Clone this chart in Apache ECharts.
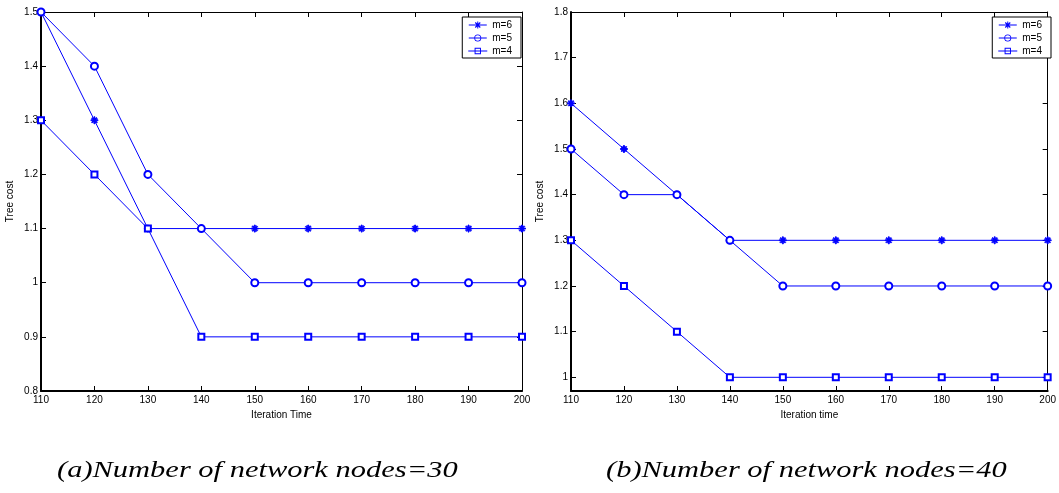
<!DOCTYPE html>
<html>
<head>
<meta charset="utf-8">
<script src="https://cdn.jsdelivr.net/npm/echarts@6/dist/echarts.min.js"></script>
<style>
  html, body { margin: 0; padding: 0; background: #fff; }
  #chart { width: 1059px; height: 493px; }
</style>
</head>
<body>
<div id="chart"></div>
<script>
const iterations = [110, 120, 130, 140, 150, 160, 170, 180, 190, 200];

// (a) 30 nodes
const nodes30M6 = [1.5, 1.3, 1.1, 1.1, 1.1, 1.1, 1.1, 1.1, 1.1, 1.1];
const nodes30M5 = [1.5, 1.4, 1.2, 1.1, 1.0, 1.0, 1.0, 1.0, 1.0, 1.0];
const nodes30M4 = [1.3, 1.2, 1.1, 0.9, 0.9, 0.9, 0.9, 0.9, 0.9, 0.9];

// (b) 40 nodes
const nodes40M6 = [1.6, 1.5, 1.4, 1.3, 1.3, 1.3, 1.3, 1.3, 1.3, 1.3];
const nodes40M5 = [1.5, 1.4, 1.4, 1.3, 1.2, 1.2, 1.2, 1.2, 1.2, 1.2];
const nodes40M4 = [1.3, 1.2, 1.1, 1.0, 1.0, 1.0, 1.0, 1.0, 1.0, 1.0];

const seriesNames = ['m=6', 'm=5', 'm=4'];
const yTicksA = [0.8, 0.9, 1.0, 1.1, 1.2, 1.3, 1.4, 1.5];
const yTicksB = [1.0, 1.1, 1.2, 1.3, 1.4, 1.5, 1.6, 1.7, 1.8];
const captions = ['(a)Number of network nodes=30', '(b)Number of network nodes=40'];

const blue = '#0000ff';
const star = 'path://M4.3 0L5.7 0L5.7 10L4.3 10Z M0 4.3L10 4.3L10 5.7L0 5.7Z M2 1L9 8L8 9L1 2Z M8 1L9 2L2 9L1 8Z';
const markers = [
  { symbol: star, size: 7 },
  { symbol: 'emptyCircle', size: 7 },
  { symbol: 'emptyRect', size: 6 },
];

// legend icons: line + marker, drawn as one filled path (18 x 7 box)
const lineBar = 'M0 3L18 3L18 4L0 4Z';
const legendIcons = [
  'path://' + lineBar + ' M8.5 0L9.5 0L9.5 7L8.5 7Z M6.9 0.6L11.9 5.6L11.1 6.4L6.1 1.4Z M11.1 0.6L11.9 1.4L6.9 6.4L6.1 5.6Z',
  'path://' + lineBar + ' M12.5 3.5A3.5 3.5 0 1 1 5.5 3.5A3.5 3.5 0 1 1 12.5 3.5Z M11.7 3.5A2.7 2.7 0 1 0 6.3 3.5A2.7 2.7 0 1 0 11.7 3.5Z',
  'path://' + lineBar + ' M6 0.5L12 0.5L12 6.5L6 6.5Z M6.9 1.4L6.9 5.6L11.1 5.6L11.1 1.4Z',
];

const labelFont = { fontFamily: 'Liberation Sans', fontSize: 10, color: '#000' };

const fmt = (v) => {
  const r = Math.round(v * 10) / 10;
  return r === 1 ? '1' : r.toString();
};

const xAxisFor = (gridIndex, name, shown) => ({
  gridIndex: gridIndex,
  type: 'value',
  min: 110,
  max: 200,
  interval: 10,
  position: shown ? 'bottom' : 'top',
  name: shown ? name : '',
  nameLocation: 'middle',
  nameGap: 19,
  nameTextStyle: labelFont,
  axisLine: { show: true, lineStyle: { color: '#000', width: shown ? 2 : 1 } },
  axisTick: { show: true, inside: true, length: 5, lineStyle: { color: '#000' } },
  axisLabel: Object.assign({ show: shown, margin: 4, formatter: (v) => v }, labelFont),
  splitLine: { show: false },
});

const yAxisFor = (gridIndex, min, max, ticks, shown) => ({
  gridIndex: gridIndex,
  type: 'value',
  min: min,
  max: max,
  position: shown ? 'left' : 'right',
  name: shown ? 'Tree cost' : '',
  nameLocation: 'middle',
  nameGap: 26,
  nameTextStyle: labelFont,
  axisLine: { show: true, lineStyle: { color: '#000', width: shown ? 2 : 1 } },
  axisTick: { show: true, inside: true, length: 5, customValues: ticks, lineStyle: { color: '#000' } },
  axisLabel: Object.assign({ show: shown, margin: 3, customValues: ticks, formatter: fmt }, labelFont),
  splitLine: { show: false },
});

const makeSeries = (data, axisIdx) => data.map((values, i) => ({
  name: seriesNames[i],
  type: 'line',
  xAxisIndex: axisIdx,
  yAxisIndex: axisIdx,
  data: iterations.map((x, k) => [x, values[k]]),
  symbol: markers[i].symbol,
  symbolSize: markers[i].size,
  showAllSymbol: true,
  itemStyle: { color: blue, borderColor: blue, borderWidth: 1 },
  lineStyle: { color: blue, width: 1 },
  animation: false,
}));

const legendFor = (right) => ({
  right: right,
  top: 17,
  orient: 'vertical',
  data: seriesNames.map((name, i) => ({ name: name, icon: legendIcons[i] })),
  itemWidth: 19,
  itemHeight: 7,
  itemGap: 3,
  padding: [3, 9, 2, 6],
  borderColor: '#000',
  borderWidth: 1,
  backgroundColor: '#fff',
  textStyle: labelFont,
  itemStyle: { color: blue, borderWidth: 0 },
  selectedMode: false,
});

const chart = echarts.init(document.getElementById('chart'));

const option = {
  backgroundColor: '#fff',
  animation: false,
  grid: [
    { left: 41, top: 12, width: 481, height: 379 },
    { left: 571, top: 12, width: 481, height: 379 },
  ],
  xAxis: [
    xAxisFor(0, 'Iteration Time', true),
    xAxisFor(1, 'Iteration time', true),
    xAxisFor(0, '', false),
    xAxisFor(1, '', false),
  ],
  yAxis: [
    yAxisFor(0, 0.8, 1.5, yTicksA, true),
    yAxisFor(1, 0.97, 1.8, yTicksB, true),
    yAxisFor(0, 0.8, 1.5, yTicksA, false),
    yAxisFor(1, 0.97, 1.8, yTicksB, false),
  ],
  legend: [legendFor(538), legendFor(8)],
  series: [].concat(
    makeSeries([nodes30M6, nodes30M5, nodes30M4], 0),
    makeSeries([nodes40M6, nodes40M5, nodes40M4], 1)
  ),
  // captions are set in a wide italic serif, so widen a smaller face a bit
  graphic: captions.map((text, i) => ({
    type: 'text',
    x: i === 0 ? 57 : 606,
    y: 459,
    scaleX: 1.27,
    style: {
      text: text,
      fontFamily: 'Liberation Serif',
      fontStyle: 'italic',
      fontSize: 24,
      fill: '#000',
    },
  })),
};

chart.setOption(option);
</script>
</body>
</html>
